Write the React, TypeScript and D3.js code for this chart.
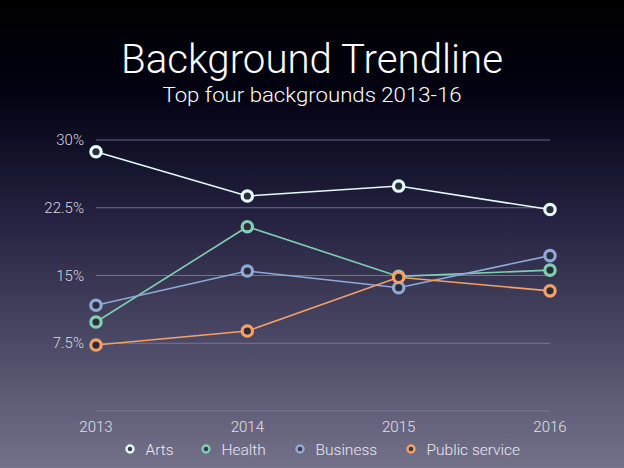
import React from "react";
import * as d3 from "d3";

const years = ["2013", "2014", "2015", "2016"];
const seriesNames = ["Arts", "Health", "Business", "Public service"];
const arts = [28.7, 23.8, 24.9, 22.3];
const health = [9.85, 20.4, 14.9, 15.6];
const business = [11.7, 15.5, 13.65, 17.2];
const publicService = [7.3, 8.85, 14.8, 13.3];
const colors = ["#e6fbfb", "#7fcfb2", "#8eaad8", "#f5a065"];
const yTicks = [7.5, 15, 22.5, 30];

const W = 624, H = 468;
const FONT = "'Roboto', 'Helvetica Neue', Arial, sans-serif";

export default function App() {
  const x = d3.scalePoint<string>().domain(years).range([96, 550]);
  const y = d3.scaleLinear().domain([0, 30]).range([411, 140]);
  const data = [arts, health, business, publicService];
  const line = d3.line<number>().x((_, i) => x(years[i])!).y((d) => y(d));
  const fmt = (v: number) => `${v}%`;
  const legendX = [130, 206, 300, 411];

  return (
    <svg width={W} height={H} style={{ position: "absolute", left: 0, top: 0 }}>
      <defs>
        <linearGradient id="bg" x1="0" y1="0" x2="0" y2="1">
          <stop offset="0" stopColor="#000000" />
          <stop offset="0.2" stopColor="#020212" />
          <stop offset="0.45" stopColor="#22203e" />
          <stop offset="0.75" stopColor="#4e4c68" />
          <stop offset="1" stopColor="#74728a" />
        </linearGradient>
      </defs>
      <rect width={W} height={H} fill="url(#bg)" />
      <text x={312} y={73} textAnchor="middle" fill="#ffffff" fontFamily={FONT} fontWeight={300} fontSize={41}
        textLength={382} lengthAdjust="spacingAndGlyphs">
        Background Trendline
      </text>
      <text x={312} y={102} textAnchor="middle" fill="#ffffff" fontFamily={FONT} fontWeight={300} fontSize={21}
        textLength={299} lengthAdjust="spacingAndGlyphs">
        Top four backgrounds 2013-16
      </text>
      {[0, ...yTicks].map((t) => (
        <line key={t} x1={96} x2={550} y1={y(t)} y2={y(t)} stroke="#8a8898" strokeOpacity={t === 0 ? 0.6 : 0.75} strokeWidth={1} />
      ))}
      {yTicks.map((t) => (
        <text key={t} x={84} y={y(t) + 5} textAnchor="end" fill="#d8d8e0" fontFamily={FONT} fontWeight={300} fontSize={15}>
          {fmt(t)}
        </text>
      ))}
      {years.map((yr) => (
        <text key={yr} x={x(yr)!} y={432} textAnchor="middle" fill="#e0e0e8" fontFamily={FONT} fontWeight={300} fontSize={15}>
          {yr}
        </text>
      ))}
      {data.map((s, si) => (
        <g key={si}>
          <path d={line(s) || ""} fill="none" stroke={colors[si]} strokeWidth={1.6} />
          {s.map((v, i) => (
            <circle key={i} cx={x(years[i])!} cy={y(v)} r={5.2} fill="#2c2c3a" stroke={colors[si]} strokeWidth={3.2} />
          ))}
        </g>
      ))}
      {seriesNames.map((n, i) => (
        <g key={n}>
          <circle cx={legendX[i]} cy={449} r={3.5} fill="#3a3a4c" stroke={colors[i]} strokeWidth={2.4} />
          <text x={legendX[i] + 15.5} y={454.5} fill="#e8e8f0" fontFamily={FONT} fontWeight={300} fontSize={15.5}>
            {n}
          </text>
        </g>
      ))}
    </svg>
  );
}
